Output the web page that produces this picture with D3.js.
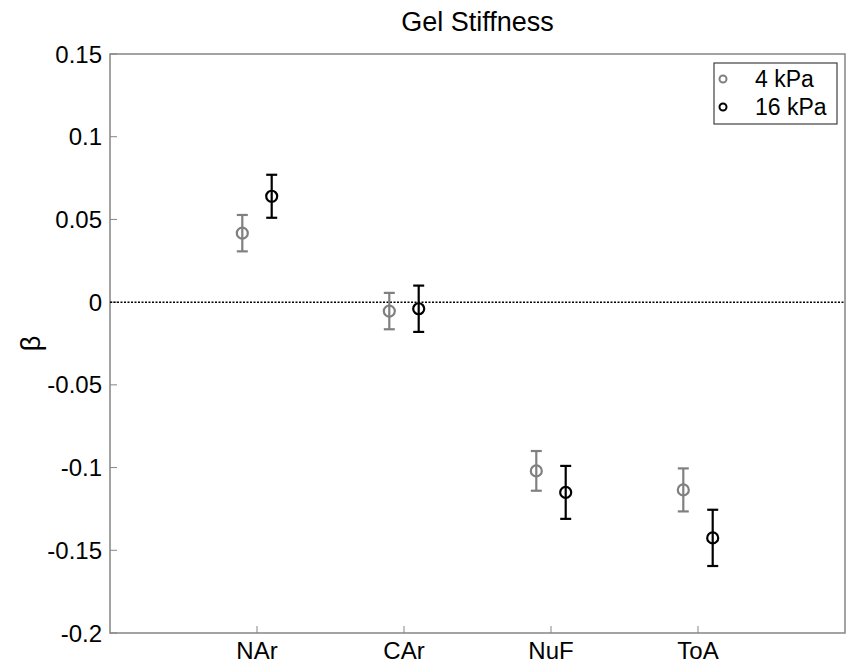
<!DOCTYPE html>
<html lang="en">
<head>
    <meta charset="UTF-8">
    <title>Gel Stiffness</title>
    <script src="https://cdn.jsdelivr.net/npm/d3@7"></script>
    <style>
        body { margin: 0; background: #fff; }
        text { font-family: 'Liberation Sans', Arial, sans-serif; }
    </style>
</head>
<body>
    <script>
        // values
        const categories = ['NAr', 'CAr', 'NuF', 'ToA']
        const seriesNames = ['4 kPa', '16 kPa']
        const seriesColors = ['#808080', '#000000']
        const soft = [0.0417, -0.0054, -0.1020, -0.1135]
        const softErr = [0.0110, 0.0110, 0.0120, 0.0130]
        const stiff = [0.0640, -0.0040, -0.1150, -0.1425]
        const stiffErr = [0.0130, 0.0140, 0.0160, 0.0170]
        const yTicks = [-0.2, -0.15, -0.1, -0.05, 0, 0.05, 0.1, 0.15]

        const width = 848
        const height = 663
        const margin = { top: 54, right: 3, bottom: 30, left: 110 }

        const svg = d3.select('body')
            .append('svg')
            .attr('width', width)
            .attr('height', height)

        const xScale = d3.scaleLinear()
            .domain([0, 5])
            .range([margin.left, width - margin.right])

        const yScale = d3.scaleLinear()
            .domain([-0.2, 0.15])
            .range([height - margin.bottom, margin.top])

        const x0 = xScale(0), x1 = xScale(5)
        const y0 = yScale(-0.2), y1 = yScale(0.15)

        // box
        svg.append('rect')
            .attr('x', x0)
            .attr('y', y1)
            .attr('width', x1 - x0)
            .attr('height', y0 - y1)
            .attr('fill', 'none')
            .attr('stroke', '#858585')
            .attr('stroke-width', 1.5)

        // y ticks (inward)
        svg.selectAll('.ytick')
            .data(yTicks)
            .enter()
            .append('line')
            .attr('x1', x0)
            .attr('x2', x0 + 7)
            .attr('y1', (d) => yScale(d))
            .attr('y2', (d) => yScale(d))
            .attr('stroke', '#858585')
            .attr('stroke-width', 1)

        svg.selectAll('.ylabel')
            .data(yTicks)
            .enter()
            .append('text')
            .attr('x', x0 - 8)
            .attr('y', (d) => yScale(d))
            .attr('dy', '0.36em')
            .attr('text-anchor', 'end')
            .attr('font-size', '24px')
            .text((d) => d === 0 ? '0' : String(d))

        // x ticks (inward)
        svg.selectAll('.xtick')
            .data(categories)
            .enter()
            .append('line')
            .attr('x1', (d, i) => xScale(i + 1))
            .attr('x2', (d, i) => xScale(i + 1))
            .attr('y1', y0)
            .attr('y2', y0 - 7)
            .attr('stroke', '#858585')
            .attr('stroke-width', 1)

        svg.selectAll('.xlabel')
            .data(categories)
            .enter()
            .append('text')
            .attr('x', (d, i) => xScale(i + 1))
            .attr('y', 659)
            .attr('text-anchor', 'middle')
            .attr('font-size', '24px')
            .text((d) => d)

        // zero line
        svg.append('line')
            .attr('x1', x0)
            .attr('x2', x1)
            .attr('y1', yScale(0))
            .attr('y2', yScale(0))
            .attr('stroke', '#000')
            .attr('stroke-width', 1.5)
            .attr('stroke-dasharray', '2,1.5')

        // series with error bars
        const series = [
            { vals: soft, err: softErr, offset: -0.1, color: seriesColors[0] },
            { vals: stiff, err: stiffErr, offset: 0.1, color: seriesColors[1] }
        ]

        series.forEach(function (s) {
            const g = svg.append('g')
            s.vals.forEach(function (v, i) {
                const cx = xScale(i + 1 + s.offset)
                const top = yScale(v + s.err[i])
                const bot = yScale(v - s.err[i])
                g.append('line')
                    .attr('x1', cx).attr('x2', cx)
                    .attr('y1', top).attr('y2', bot)
                    .attr('stroke', s.color).attr('stroke-width', 2.2)
                ;[top, bot].forEach(function (yy) {
                    g.append('line')
                        .attr('x1', cx - 5.5).attr('x2', cx + 5.5)
                        .attr('y1', yy).attr('y2', yy)
                        .attr('stroke', s.color).attr('stroke-width', 2.2)
                })
                g.append('circle')
                    .attr('cx', cx)
                    .attr('cy', yScale(v))
                    .attr('r', 5.5)
                    .attr('fill', 'none')
                    .attr('stroke', s.color)
                    .attr('stroke-width', 2.2)
            })
        })

        // title
        svg.append('text')
            .attr('x', (x0 + x1) / 2)
            .attr('y', 31)
            .attr('text-anchor', 'middle')
            .attr('font-size', '27px')
            .text('Gel Stiffness')

        // y label
        svg.append('text')
            .attr('transform', `translate(40, ${(y0 + y1) / 2}) rotate(-90)`)
            .attr('text-anchor', 'middle')
            .attr('font-size', '27px')
            .text('β')

        // legend
        const legendX = 714
        const legendY = 63
        svg.append('rect')
            .attr('x', legendX)
            .attr('y', legendY)
            .attr('width', 123)
            .attr('height', 61)
            .attr('fill', '#fff')
            .attr('stroke', '#404040')
            .attr('stroke-width', 1.2)

        seriesNames.forEach(function (name, i) {
            const yy = legendY + 16 + i * 28
            svg.append('circle')
                .attr('cx', legendX + 9)
                .attr('cy', yy)
                .attr('r', 3.5)
                .attr('fill', 'none')
                .attr('stroke', seriesColors[i])
                .attr('stroke-width', 2)
            svg.append('text')
                .attr('x', legendX + 41)
                .attr('y', yy)
                .attr('dy', '0.36em')
                .attr('font-size', '23px')
                .text(name)
        })
    </script>
</body>
</html>
